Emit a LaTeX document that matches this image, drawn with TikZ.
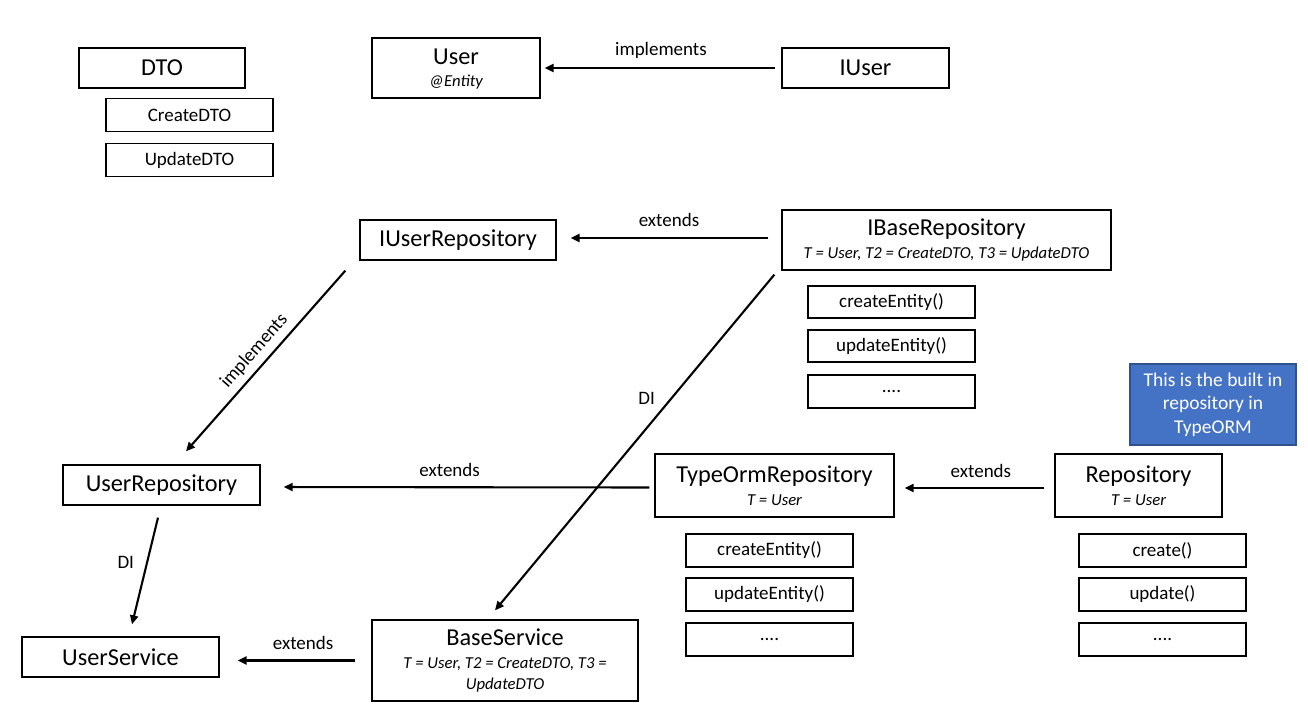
\documentclass[tikz,border=0pt]{standalone}
\usepackage{fontspec}
\setmainfont{Carlito}
\usetikzlibrary{arrows.meta,calc}
\definecolor{bluefill}{HTML}{4472C4}
\definecolor{blueedge}{HTML}{2F528F}
\newcommand{\subf}{\fontsize{16.7}{21}\selectfont\itshape}
\tikzset{
  box/.style={draw=black, line width=1.3pt, inner sep=0pt, align=center,
    font=\fontsize{24.3}{26}\selectfont},
  meth/.style={draw=black, line width=1.3pt, inner sep=0pt, align=center,
    minimum width=167pt, minimum height=33pt, font=\fontsize{19}{20}\selectfont},
  conn/.style={line width=2.1pt, -{Triangle[length=9pt,width=8pt]}},
  lbl/.style={font=\fontsize{19}{20}\selectfont, inner sep=0pt},
  note/.style={draw=blueedge, fill=bluefill, line width=1.3pt, text=white, inner sep=0pt,
    align=center, font=\fontsize{19.5}{23.5}\selectfont}
}
\begin{document}
\begin{tikzpicture}[x=1pt,y=-1pt]
\useasboundingbox[fill=white] (0,0) rectangle (1308,722);

% top row
\node[box, minimum width=166pt, minimum height=40pt] (dto) at (162,68) {DTO};
\node[meth] (cdto) at (189.5,115) {CreateDTO};
\node[meth] (udto) at (189.5,160) {UpdateDTO};
\node[box, minimum width=168pt, minimum height=60pt, text depth=-3pt] (user) at (456,68) {User\\[-4pt]{\subf @Entity}};
\node[box, minimum width=167pt, minimum height=40pt] (iuser) at (865.5,68) {IUser};

% repository interfaces
\node[box, minimum width=329pt, minimum height=60pt] (ibase) at (946.5,240)
  {IBaseRepository\\[-3pt]{\subf T = User, T2 = CreateDTO, T3 = UpdateDTO}};
\node[box, minimum width=196pt, minimum height=40pt] (iurepo) at (458,240) {IUserRepository};
\node[meth, minimum height=32pt] (ib1) at (891.5,302) {createEntity()};
\node[meth, minimum height=32pt] (ib2) at (891.5,346) {updateEntity()};
\node[meth] (ib3) at (891.5,391.5) {....};

\node[note, minimum width=166pt, minimum height=81pt] (note) at (1213,404.5)
  {This is the built in\\repository in\\TypeORM};

% middle row
\node[box, minimum width=197pt, minimum height=40pt] (urepo) at (161.5,485) {UserRepository};
\node[box, minimum width=239pt, minimum height=63pt] (torm) at (774.5,485.5)
  {TypeOrmRepository\\[-3pt]{\subf T = User}};
\node[box, minimum width=167pt, minimum height=63pt] (repo) at (1138.5,485.5)
  {Repository\\[-3pt]{\subf T = User}};
\node[meth] (t1) at (769.5,550.5) {createEntity()};
\node[meth] (t2) at (769.5,594.5) {updateEntity()};
\node[meth] (t3) at (769.5,639.5) {....};
\node[meth] (r1) at (1162.5,550.5) {create()};
\node[meth] (r2) at (1162.5,594.5) {update()};
\node[meth] (r3) at (1162.5,639.5) {....};

% bottom row
\node[box, minimum width=197pt, minimum height=40pt] (userv) at (120.5,657) {UserService};
\node[box, minimum width=266pt, minimum height=81pt] (bserv) at (505,660.5)
  {BaseService\\[-3pt]{\subf T = User, T2 = CreateDTO, T3 =}\\[-5pt]{\subf UpdateDTO}};

% connectors
\draw[conn, shorten <=6pt, shorten >=4pt] (iuser.west) -- (user.east)
  node[midway, above=8pt, lbl] {implements};
\draw[conn, shorten <=13pt, shorten >=14pt] ([yshift=2pt]ibase.west) -- ([yshift=2pt]iurepo.east)
  node[midway, above=10pt, lbl] {extends};
\draw[conn] ($(iurepo.south west)+(-14,10)$) -- ($(urepo.north)+(24.5,-13)$)
  node[midway, sloped, above=6pt, lbl] {implements};
\draw[conn] ($(ibase.south west)+(-7,4)$) -- ($(bserv.north)+(-10,-9)$)
  node[pos=0.37, left=15pt, lbl] {DI};
\draw[conn, shorten <=5pt, shorten >=23pt] ([yshift=-2pt]torm.west) -- ([yshift=-2pt]urepo.east)
  node[pos=0.52, above=10pt, lbl] {extends};
\draw[conn, shorten <=10pt, shorten >=10pt] ([yshift=-2.5pt]repo.west) -- ([yshift=-2.5pt]torm.east)
  node[pos=0.46, above=9pt, lbl] {extends};
\draw[conn] ($(urepo.south)+(-3.5,12)$) -- ($(userv.north)+(11.5,-12)$)
  node[pos=0.42, left=12pt, lbl] {DI};
\draw[conn, shorten <=16pt, shorten >=18pt] (bserv.west) -- (userv.east |- bserv.west)
  node[pos=0.45, above=10pt, lbl] {extends};
\end{tikzpicture}
\end{document}
